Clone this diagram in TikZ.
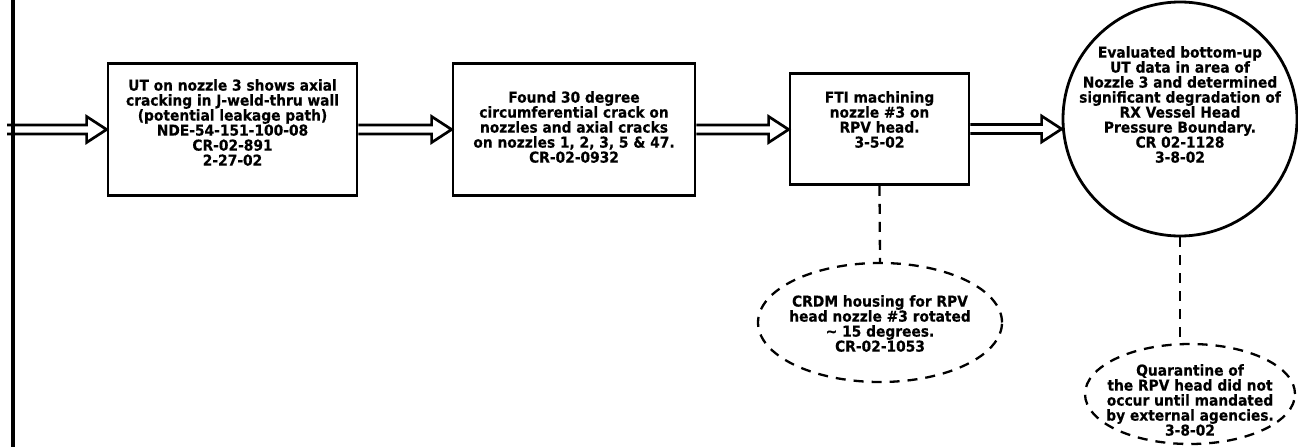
\documentclass[tikz,border=0pt]{standalone}
\usepackage{fontspec}
\newfontfamily\plotfont{DejaVu Sans Bold}[FakeBold=0.4,FakeStretch=0.92]
\usetikzlibrary{calc,shapes.geometric}
\tikzset{
  frame/.style={draw, line width=2.8pt, inner sep=0pt},
  txt/.style={align=center, inner sep=0pt, anchor=north,
    font=\plotfont\fontsize{15}{15}\selectfont},
  note/.style={draw, dash pattern=on 10pt off 8pt, line width=2.3pt,
    ellipse, inner sep=0pt},
  link/.style={draw, line width=2.3pt, dash pattern=on 10pt off 8pt},
  arr/.style={draw, line width=2.7pt, line join=miter},
}
\newcommand\dblarrow[2]{%
  \path[arr] let \p1=(#1), \p2=(#2) in
    (\x1,\y1+4.5pt) -- (\x2-20pt,\y1+4.5pt) -- (\x2-20pt,\y1+13pt) -- (\x2,\y1)
    -- (\x2-20pt,\y1-13pt) -- (\x2-20pt,\y1-4.5pt) -- (\x1,\y1-4.5pt);}
\begin{document}
\begin{tikzpicture}[x=1pt,y=-1pt]
\useasboundingbox (0,0) rectangle (1298,447);
% left rule
\coordinate (rtop) at (13,0);
\coordinate (rbot) at (13,447);
\draw[line width=3.5pt] (rtop) -- (rbot);
\coordinate (src) at (7,129.5);
% boxes
\node[frame, minimum width=249pt, minimum height=132pt] (b1) at (232.5,129.5) {};
\node[frame, minimum width=242pt, minimum height=132pt] (b2) at (574,129.5) {};
\node[frame, minimum width=179pt, minimum height=111pt] (b3) at (879.5,129) {};
\node[frame, circle, minimum size=234pt] (circ) at (1180,119) {};
\node[note, minimum width=244pt, minimum height=119pt] (e1) at (880,322.5) {};
\node[note, minimum width=210pt, minimum height=100pt] (e2) at (1190,394) {};
% texts
\node[txt] (t1) at (232.5,79) {UT on nozzle 3 shows axial\\cracking in J-weld-thru wall\\(potential leakage path)\\NDE-54-151-100-08\\CR-02-891\\2-27-02};
\node[txt] (t2) at (574,91) {Found 30 degree\\circumferential crack on\\nozzles and axial cracks\\on nozzles 1, 2, 3, 5 \& 47.\\CR-02-0932};
\node[txt] (t3) at (879.5,91) {FTI machining\\nozzle \#3 on\\RPV head.\\3-5-02};
\node[txt] (t4) at (1180,46) {Evaluated bottom-up\\UT data in area of\\Nozzle 3 and determined\\significant degradation of\\RX Vessel Head\\Pressure Boundary.\\CR 02-1128\\3-8-02};
\node[txt] (t5) at (880,295) {CRDM housing for RPV\\head nozzle \#3 rotated\\\textasciitilde\ 15 degrees.\\CR-02-1053};
\node[txt] (t6) at (1190,364) {Quarantine of\\the RPV head did not\\occur until mandated\\by external agencies.\\3-8-02};
% arrows
\dblarrow{src}{b1.west}
\dblarrow{b1.east}{b2.west}
\dblarrow{b2.east}{b3.west}
\dblarrow{b3.east}{circ.west}
% dashed links
\path[link] (b3.south) -- (e1.north);
\path[link] (circ.south) -- (circ.south |- e2.north);
\end{tikzpicture}
\end{document}
